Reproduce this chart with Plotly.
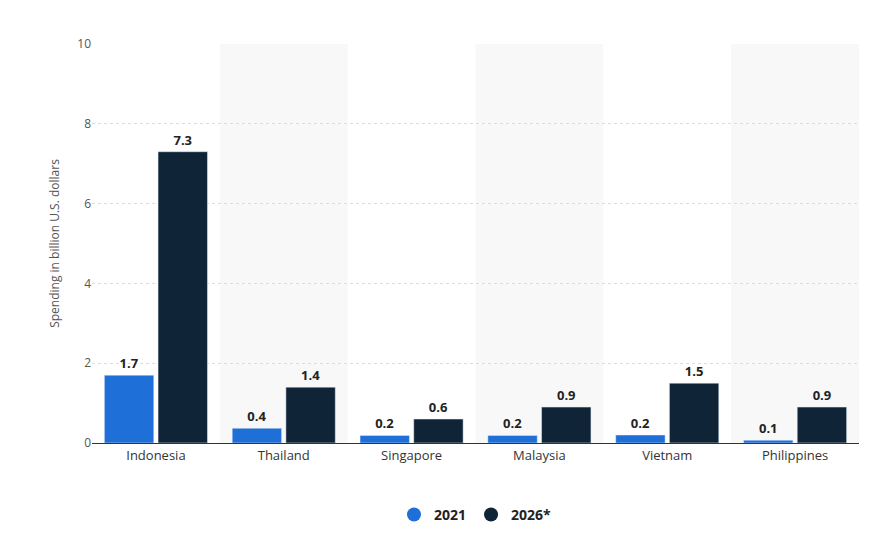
import plotly.graph_objects as go

# chart data
countries = ['Indonesia', 'Thailand', 'Singapore', 'Malaysia', 'Vietnam', 'Philippines']
spend_2021 = [1.7, 0.37, 0.19, 0.19, 0.2, 0.07]
spend_2026 = [7.3, 1.4, 0.6, 0.9, 1.5, 0.9]
labels_2021 = ['1.7', '0.4', '0.2', '0.2', '0.2', '0.1']
labels_2026 = ['7.3', '1.4', '0.6', '0.9', '1.5', '0.9']
series_names = ['2021', '2026*']
series_colors = ['#1f6fd9', '#0f2537']

###################################################################################################################
### set up the figure
###################################################################################################################

# instantiate
fig = go.Figure()

# create the traces
trace1 = go.Bar(x=countries, y=spend_2021, name=series_names[0], text=labels_2021, textposition='outside',
                marker_color=series_colors[0], cliponaxis=False, showlegend=False)
trace2 = go.Bar(x=countries, y=spend_2026, name=series_names[1], text=labels_2026, textposition='outside',
                marker_color=series_colors[1], cliponaxis=False, showlegend=False)

# add the traces
fig.add_trace(trace1)
fig.add_trace(trace2)
fig.update_traces(textfont=dict(size=13, color='#222222', family='Open Sans, Arial'),
                  texttemplate='<b>%{text}</b>')

# round legend markers
for name, color in zip(series_names, series_colors):
    fig.add_trace(go.Scatter(x=[None], y=[None], mode='markers', name='<b>' + name + '</b>',
                             marker=dict(symbol='circle', size=14, color=color)))

# shaded bands behind every second category
for i in range(1, len(countries), 2):
    fig.add_shape(type='rect', xref='x', yref='paper', x0=i - 0.5, x1=i + 0.5, y0=0, y1=1,
                  fillcolor='#f8f8f8', line_width=0, layer='below')

# visual edits
fig.update_layout(
    width=879, height=551, plot_bgcolor='white', paper_bgcolor='white',
    margin=dict(l=84, r=28, t=36, b=116),
    font=dict(family='Open Sans, Arial', color='#333333', size=13),
    bargap=0.16, bargroupgap=0.08,
    uniformtext=dict(minsize=12, mode='show'),
    legend=dict(orientation='h', x=0.5, xanchor='center', y=-0.14, yanchor='top',
                font=dict(size=14, color='#222222')),
)
fig.update_yaxes(title=dict(text='Spending in billion U.S. dollars', font=dict(size=12, color='#555555')),
                 range=[0, 10], dtick=2, gridcolor='#dddddd', griddash='dot',
                 tickfont=dict(size=12, color='#555555'), zeroline=False, ticklen=0)
fig.update_xaxes(showline=True, linecolor='#333333', tickfont=dict(size=13, color='#333333'))

fig.write_html('out.html')
